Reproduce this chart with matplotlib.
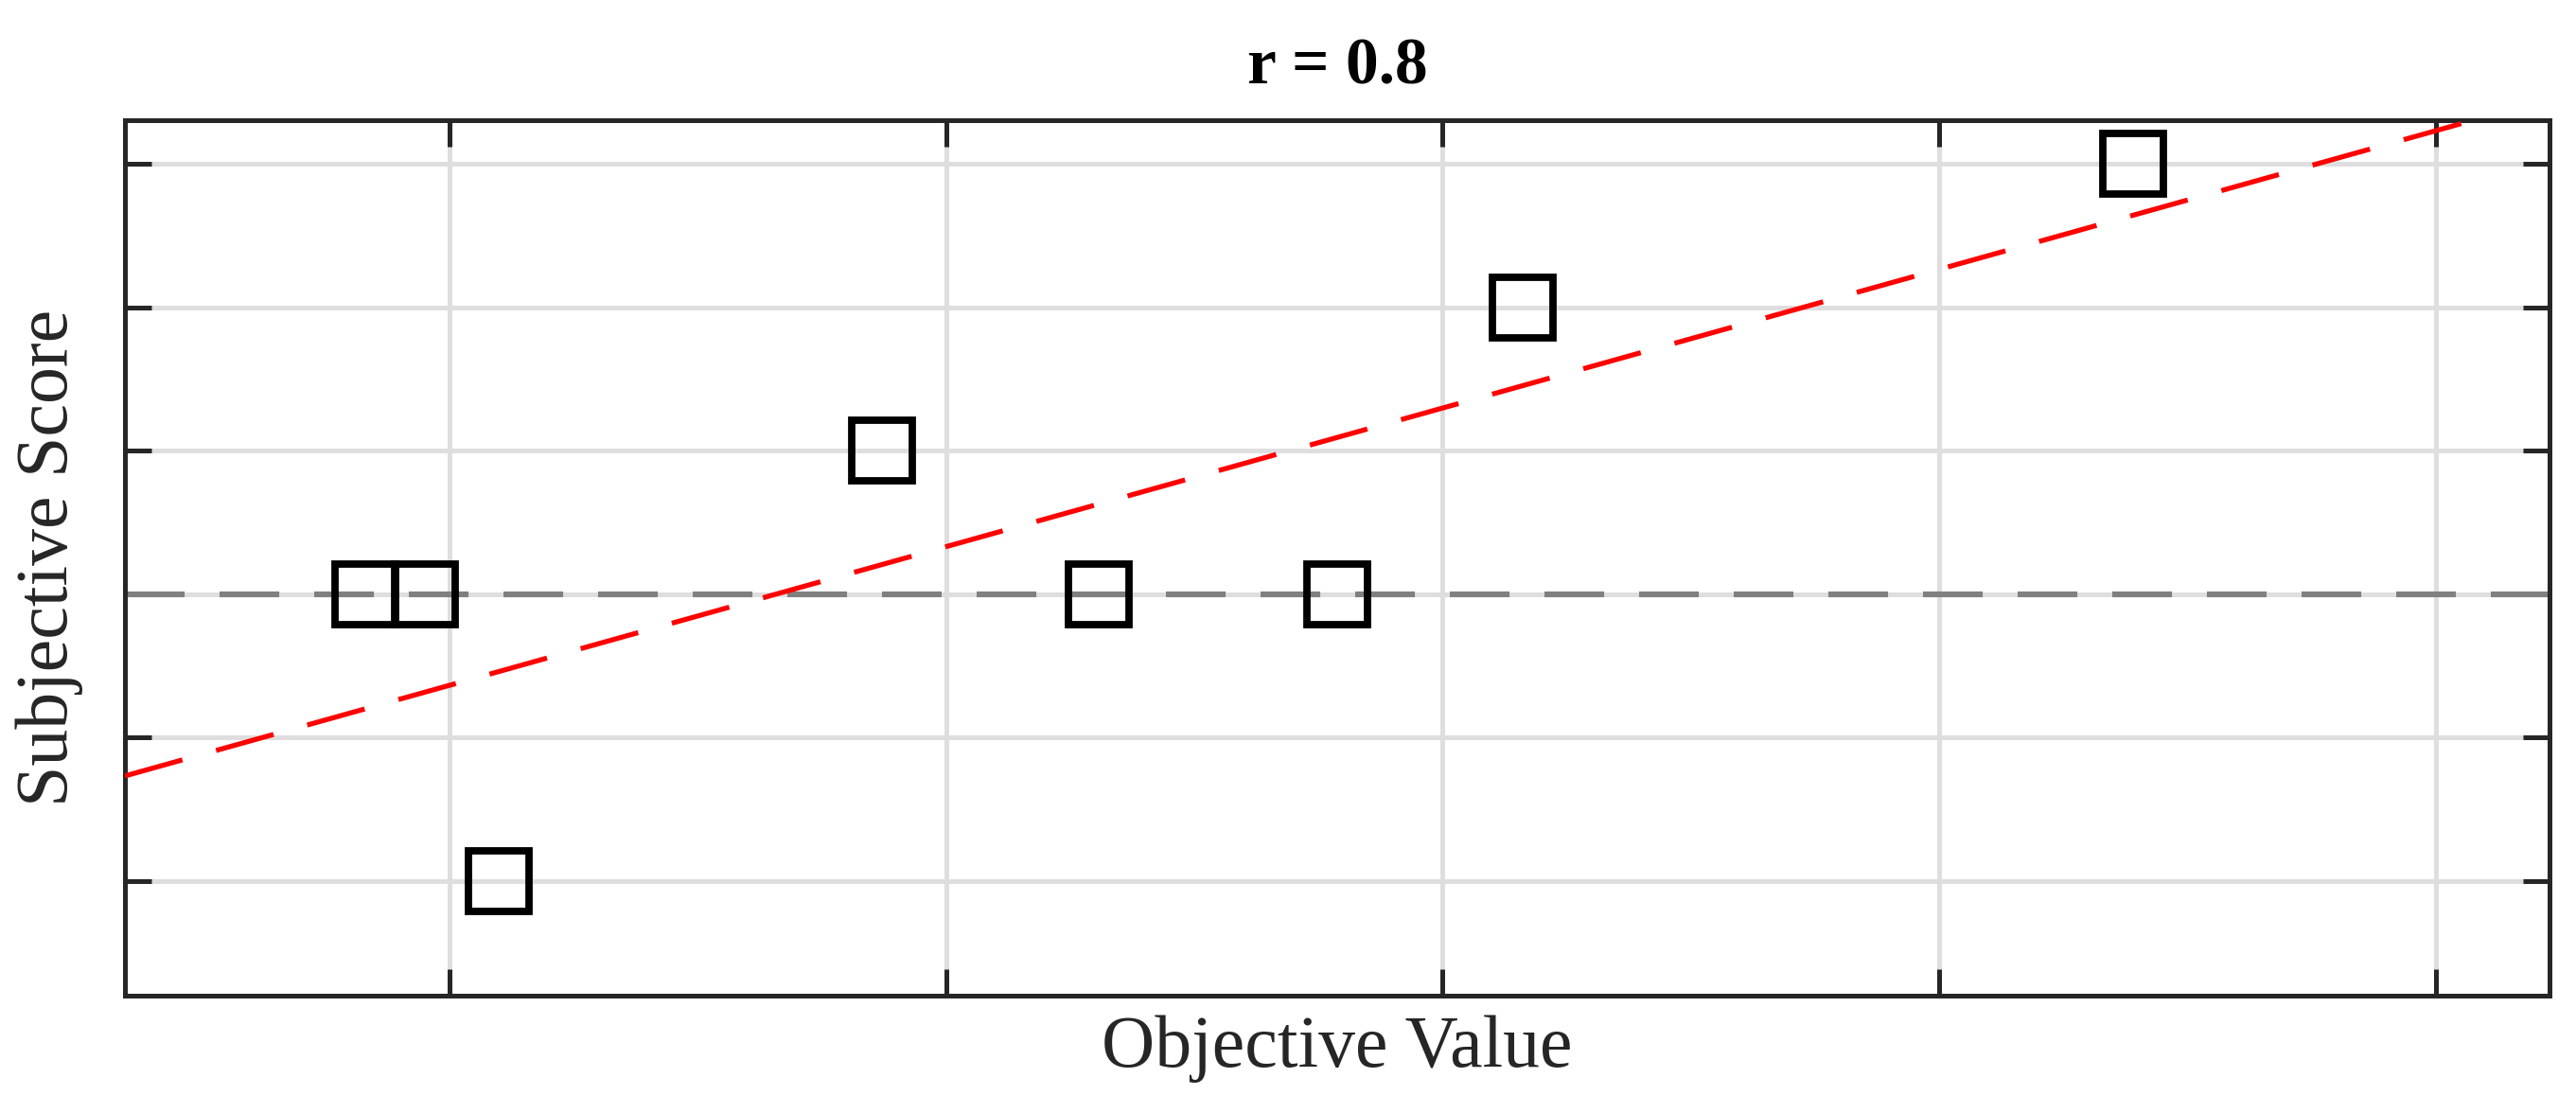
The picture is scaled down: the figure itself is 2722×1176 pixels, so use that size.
import numpy as np
import matplotlib
matplotlib.use("Agg")
import matplotlib.pyplot as plt

# ---- data ----
objective_values = [0.830, 0.950, 1.099, 1.871, 2.307, 2.788, 3.162, 4.391]
subjective_scores = [3, 3, 1, 4, 3, 3, 5, 6]
x_ticks = [1, 2, 3, 4, 5]
y_ticks = [1, 2, 3, 4, 5, 6]
x_limits = (0.346, 5.229)
y_limits = (0.202, 6.303)
reference_level = 3
title_text = "r = 0.8"
x_label = "Objective Value"
y_label = "Subjective Score"

plt.rcParams["lines.scale_dashes"] = False
DPI = 200
fig = plt.figure(figsize=(2722 / DPI, 1176 / DPI), dpi=DPI)
ax = fig.add_axes([132 / 2722, 1 - 1052 / 1176, (2694 - 132) / 2722, (1052 - 127) / 1176])

dark = "#262626"
ax.set_xlim(*x_limits)
ax.set_ylim(*y_limits)
ax.set_xticks(x_ticks)
ax.set_yticks(y_ticks)
ax.set_xticklabels([])
ax.set_yticklabels([])
ax.tick_params(which="both", direction="in", length=10, width=1.8, color=dark,
               top=True, right=True, bottom=True, left=True)
for s in ax.spines.values():
    s.set_linewidth(1.8)
    s.set_color(dark)
ax.grid(True, color="#dedede", linewidth=1.8, zorder=0)
ax.set_axisbelow(True)

# reference line
ax.axhline(reference_level, color="#808080", linewidth=2.2, dashes=(22.7, 13.3), zorder=2)

# least-squares fit line
slope, intercept = np.polyfit(objective_values, subjective_scores, 1)
xs = np.array(x_limits)
ax.plot(xs, slope * xs + intercept, color="#ff0000", linewidth=1.9,
        dashes=(22.7, 13.3), zorder=3)

# points
ax.plot(objective_values, subjective_scores, linestyle="none", marker="s",
        markersize=22.7, markerfacecolor="none", markeredgecolor="black",
        markeredgewidth=2.8, zorder=4)

serif = ["Liberation Serif", "DejaVu Serif"]
ax.set_title(title_text, fontsize=25, fontweight="bold", family=serif, pad=14, color="black")
ax.set_xlabel(x_label, fontsize=28, family=serif, color=dark)
ax.set_ylabel(y_label, fontsize=28, family=serif, color=dark)
ax.xaxis.set_label_coords(0.5, -0.0605)
ax.xaxis.label.set_va("center")
ax.yaxis.set_label_coords(-0.0312, 0.5)
ax.yaxis.label.set_va("center")

fig.savefig("out.png", dpi=DPI)
